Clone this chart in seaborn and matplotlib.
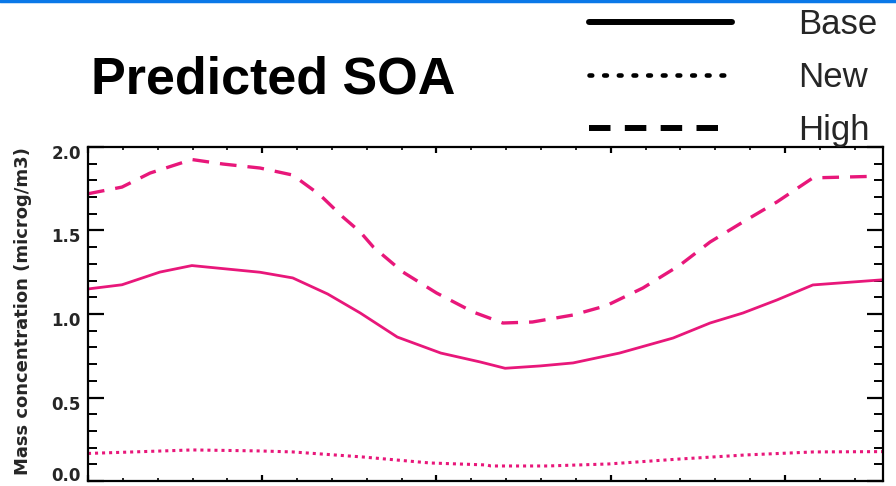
import matplotlib
matplotlib.use("Agg")
import matplotlib.pyplot as plt
from matplotlib.lines import Line2D
import matplotlib.transforms as mtransforms
import seaborn as sns
import numpy as np

# ---------------- data (day of year, microg/m3) ----------------
base_day = [0, 15.6, 33, 47.7, 79, 94, 110, 125, 142, 162, 180, 191.5, 207.6,
            222.7, 244, 268.6, 285.6, 300.7, 316.3, 332.8, 365]
base_val = [1.15, 1.175, 1.251, 1.29, 1.25, 1.216, 1.12, 1.006, 0.862, 0.766,
            0.713, 0.675, 0.689, 0.707, 0.766, 0.856, 0.946, 1.006, 1.084,
            1.174, 1.205]

high_day = [0, 15.6, 28.5, 47.7, 62, 79, 94, 106.5, 117, 125, 131, 144.6, 160,
            176.8, 190.5, 204, 222.7, 238, 254.8, 271.8, 285.6, 300.7, 316.3,
            332.8, 362.3]
high_val = [1.72, 1.76, 1.844, 1.925, 1.898, 1.874, 1.832, 1.713, 1.581, 1.491,
            1.401, 1.251, 1.126, 1.012, 0.946, 0.952, 0.994, 1.05, 1.156,
            1.293, 1.431, 1.551, 1.671, 1.815, 1.825]

new_day = [0, 48, 79, 94, 126, 157, 183, 185, 211, 239, 272, 302, 333, 365]
new_val = [0.165, 0.186, 0.18, 0.174, 0.144, 0.108, 0.096, 0.09, 0.09, 0.102,
           0.132, 0.156, 0.174, 0.176]

series_names = ["Base", "New", "High"]
title_text = "Predicted SOA"
ylabel_text = "Mass concentration (microg/m3)"
yticks = [0.0, 0.5, 1.0, 1.5, 2.0]
ytick_labels = ["0.0", "0.5", "1.0", "1.5", "2.0"]

# ---------------- style ----------------
sns.set_theme(style="white")
plt.rcParams["font.family"] = ["Liberation Sans", "DejaVu Sans"]

PINK = "#e8177a"
W, H, DPI = 896, 486, 100
fig = plt.figure(figsize=(W / DPI, H / DPI), dpi=DPI)
fig.patch.set_facecolor("white")

ax = fig.add_axes([88 / W, 1 - 481 / H, (883 - 88) / W, (481 - 147) / H])

sns.lineplot(x=base_day, y=base_val, ax=ax, color=PINK, lw=2.0,
             linestyle="-", estimator=None, sort=False)
sns.lineplot(x=new_day, y=new_val, ax=ax, color=PINK, lw=2.2,
             linestyle=(0, (1, 1.3)), estimator=None, sort=False)
sns.lineplot(x=high_day, y=high_val, ax=ax, color=PINK, lw=2.4,
             linestyle=(0, (5, 3.3)), estimator=None, sort=False)

ax.set_xlim(0, 365)
ax.set_ylim(0, 2.0)
ax.set_xticks(np.arange(0, 366, 80))
ax.set_xticks(np.arange(0, 366, 16), minor=True)
ax.set_xticklabels([])
ax.set_yticks(yticks)
ax.set_yticklabels(ytick_labels, fontsize=12, fontweight="bold",
                   family=["DejaVu Sans"])
ax.set_yticks(np.arange(0, 2.001, 0.1), minor=True)

ax.tick_params(axis="y", which="major", direction="in", length=11.5, width=1.6,
               left=True, right=True, pad=5, color="black")
ax.tick_params(axis="y", which="minor", direction="in", length=6.5, width=1.4,
               left=True, right=True, color="black")
ax.tick_params(axis="x", which="major", direction="in", length=4.5, width=1.6,
               bottom=True, top=True, color="black")
ax.tick_params(axis="x", which="minor", direction="in", length=2, width=1.2,
               bottom=True, top=True, color="black")
for s in ax.spines.values():
    s.set_visible(True)
    s.set_color("black")
    s.set_linewidth(1.6)

# IDL-like label placement: labels sit a little below their ticks, bottom one above
for lab, val in zip(ax.get_yticklabels(), yticks):
    dy = 7 if val == 0.0 else -5
    lab.set_transform(lab.get_transform() +
                      mtransforms.ScaledTranslation(0, dy / DPI, fig.dpi_scale_trans))

ax.set_xlabel("")
ax.set_ylabel(ylabel_text, fontsize=13, fontweight="bold", family=["DejaVu Sans"])
ax.yaxis.set_label_coords((32 - 88) / (883 - 88), 0.51)

# title
fig.text(91 / W, 1 - 93 / H, title_text, fontsize=37.5, fontweight="bold",
         ha="left", va="baseline", color="black")

# legend
handles = [
    Line2D([], [], color="black", lw=4.3, linestyle="-"),
    Line2D([], [], color="black", lw=3.3, linestyle=(0, (0.6, 2.6)),
           dash_capstyle="round"),
    Line2D([], [], color="black", lw=4.3, linestyle=(0, (3.6, 2.4))),
]
leg = fig.legend(handles, series_names, loc="upper left",
                 bbox_to_anchor=(586 / W, 1 - 5 / H), frameon=False,
                 fontsize=25, handlelength=4.1, handletextpad=1.9,
                 labelspacing=0.57, borderaxespad=0, borderpad=0.1)

# slide top border
fig.add_artist(Line2D([0, 1], [1 - 1.5 / H, 1 - 1.5 / H], transform=fig.transFigure,
                      color="#0a78e8", lw=2.5))

fig.savefig("out.png", dpi=DPI, facecolor="white")
